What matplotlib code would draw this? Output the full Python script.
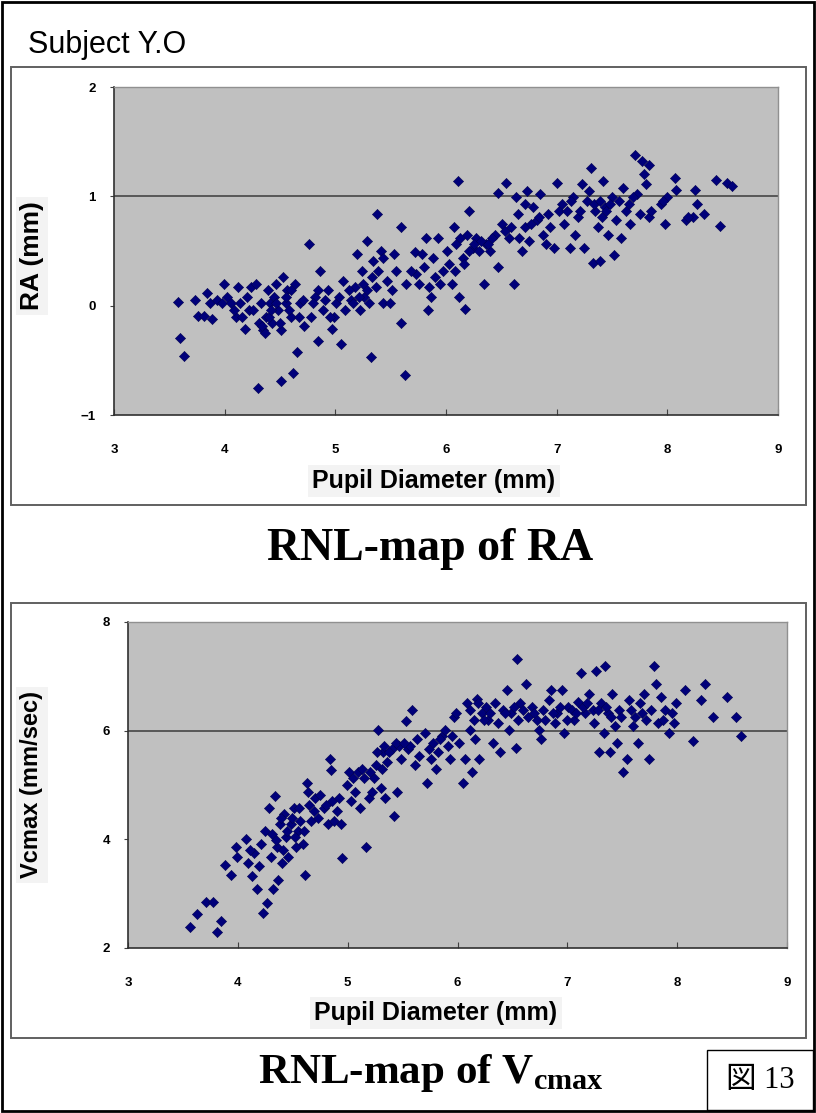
import matplotlib
matplotlib.use("Agg")
import matplotlib.pyplot as plt
from matplotlib.patches import Rectangle

plt.rcParams['mathtext.fontset'] = 'custom'
plt.rcParams['mathtext.rm'] = 'Liberation Serif:bold'
plt.rcParams['mathtext.bf'] = 'Liberation Serif:bold'

# ---------------- data ----------------
ra_x = [3.58, 3.60, 3.63, 3.73, 3.76, 3.81, 3.84, 3.89, 3.87, 3.93, 3.99, 3.98, 4.02, 4.10, 4.12,
        4.14, 4.18, 4.20, 4.22, 4.24, 4.28, 4.30, 4.31, 4.33, 4.35, 4.37, 4.39, 4.41, 4.43, 4.45,
        4.46, 4.48, 4.51, 4.51, 4.53, 4.55, 4.56, 4.60, 4.62, 4.64, 4.65, 4.68, 4.72, 4.76, 4.78,
        4.82, 4.84, 4.86, 4.89, 4.93, 4.97, 4.99, 5.01, 5.05, 5.07, 5.09, 5.14, 5.18, 5.20, 5.22,
        5.24, 5.26, 5.29, 5.30, 5.32, 5.34, 5.37, 5.38, 5.39, 5.41, 5.43, 5.47, 5.51, 5.53, 5.55,
        5.59, 5.59, 5.63, 5.64, 5.72, 5.73, 5.80, 5.82, 5.84, 5.85, 5.88, 5.90, 5.93, 5.97, 6.01,
        6.05, 6.07, 6.09, 6.11, 6.12, 6.15, 6.17, 6.19, 6.21, 6.24, 6.27, 6.30, 6.34, 6.36, 6.40,
        6.44, 6.47, 6.47, 6.51, 6.54, 6.57, 6.61, 6.63, 6.65, 6.69, 6.71, 6.73, 6.75, 6.79, 6.82,
        6.85, 6.88, 6.90, 6.92, 6.98, 7.00, 7.02, 7.07, 7.12, 7.15, 7.17, 7.19, 7.23, 7.25, 7.29,
        7.31, 7.33, 7.35, 7.37, 7.39, 7.42, 7.44, 7.46, 7.50, 7.52, 7.54, 7.58, 7.60, 7.63, 7.66,
        7.71, 7.73, 7.75, 7.77, 7.79, 7.83, 7.83, 7.94, 7.98, 8.00, 8.07, 8.08, 8.17, 8.23, 8.25,
        8.27, 8.33, 8.44, 8.48, 8.54, 8.58,
        4.06, 4.08, 4.16, 4.26, 4.34, 4.36, 4.40, 4.42, 4.46, 4.50, 4.55, 4.58, 4.60, 4.67, 4.71,
        4.80, 4.84, 4.91, 4.95, 5.03, 5.12, 5.16, 5.21, 5.25, 5.29, 5.33, 5.43, 5.49, 5.68, 5.76,
        5.78, 5.86, 5.95, 6.03, 6.08, 6.13, 6.16, 6.21, 6.25, 6.32, 6.38, 6.42, 6.53, 6.59, 6.66,
        6.71, 6.77, 6.84, 6.94, 7.05, 7.09, 7.13, 7.21, 7.27, 7.34, 7.39, 7.41, 7.45, 7.48, 7.56,
        7.65, 7.69, 7.81, 7.85, 7.96, 8.19]
ra_y = [0.03, -0.30, -0.46, 0.05, -0.09, -0.09, 0.12, -0.12, 0.02, 0.05, 0.20, 0.02, 0.08, -0.10, 0.17,
        0.02, -0.21, 0.08, -0.04, 0.17, 0.20, -0.75, -0.16, 0.02, -0.22, -0.10, 0.14, 0.02, -0.16, 0.08,
        0.20, -0.04, -0.69, -0.22, 0.26, 0.02, 0.14, -0.10, -0.62, 0.20, -0.42, 0.02, -0.19, 0.56, -0.10,
        0.08, -0.32, 0.32, -0.04, 0.14, -0.21, -0.10, 0.02, -0.35, 0.23, -0.04, 0.05, 0.17, 0.47, -0.04,
        0.32, 0.08, 0.59, 0.02, -0.47, 0.41, 0.17, 0.84, 0.32, 0.50, 0.02, 0.23, 0.14, 0.47, 0.32,
        0.72, -0.16, -0.63, 0.20, 0.49, 0.29, 0.35, 0.62, -0.04, 0.17, 0.44, 0.26, 0.62, 0.32, 0.50,
        0.20, 0.72, 0.56, 1.14, 0.08, 0.44, -0.03, 0.65, 0.87, 0.53, 0.62, 0.50, 0.20, 0.56, 0.50,
        0.65, 0.35, 1.03, 0.75, 1.12, 0.62, 0.20, 0.99, 0.84, 0.50, 0.72, 1.05, 0.59, 0.90, 0.78,
        1.02, 0.65, 0.56, 0.84, 0.53, 1.12, 0.87, 0.75, 0.53, 0.99, 0.65, 0.81, 1.11, 0.53, 1.05,
        1.26, 0.39, 0.87, 0.72, 0.41, 1.14, 0.90, 0.65, 0.99, 0.46, 0.78, 0.62, 1.08, 0.87, 0.75,
        1.38, 1.02, 0.84, 1.32, 1.20, 1.29, 0.81, 0.93, 0.75, 0.99, 1.17, 1.06, 0.78, 0.81, 1.06,
        0.93, 0.84, 1.15, 0.73, 1.12, 1.09,
        0.02, -0.04, -0.10, -0.04, -0.19, -0.25, -0.10, -0.04, 0.02, -0.16, 0.08, -0.04, 0.14, -0.10, 0.05,
        0.02, 0.14, 0.05, -0.10, 0.08, 0.14, 0.02, 0.08, 0.20, 0.14, 0.26, 0.44, 0.02, 0.32, 0.20,
        0.47, 0.08, 0.20, 0.38, 0.32, 0.62, 0.38, 0.50, 0.56, 0.59, 0.56, 0.62, 0.68, 0.72, 0.62,
        0.93, 0.75, 0.81, 0.72, 0.93, 0.87, 0.96, 0.87, 0.96, 0.93, 0.96, 0.81, 0.87, 0.93, 0.96,
        0.93, 0.99, 1.11, 0.87, 0.96, 0.81]

vc_x = [3.56, 3.63, 3.71, 3.77, 3.81, 3.85, 3.88, 3.94, 3.98, 3.99, 4.07, 4.09, 4.13, 4.15, 4.17,
        4.19, 4.23, 4.25, 4.27, 4.28, 4.30, 4.32, 4.34, 4.36, 4.37, 4.38, 4.40, 4.42, 4.44, 4.46,
        4.48, 4.51, 4.53, 4.55, 4.57, 4.59, 4.61, 4.63, 4.65, 4.67, 4.69, 4.73, 4.78, 4.82, 4.84,
        4.85, 4.86, 4.88, 4.90, 4.94, 4.95, 4.99, 5.03, 5.07, 5.11, 5.15, 5.17, 5.19, 5.22, 5.24,
        5.26, 5.28, 5.30, 5.32, 5.34, 5.36, 5.40, 5.42, 5.45, 5.47, 5.49, 5.53, 5.55, 5.57, 5.59,
        5.61, 5.65, 5.72, 5.74, 5.78, 5.80, 5.82, 5.86, 5.91, 5.93, 5.97, 5.99, 6.05, 6.07, 6.09,
        6.11, 6.13, 6.16, 6.18, 6.20, 6.22, 6.26, 6.28, 6.32, 6.34, 6.39, 6.41, 6.45, 6.47, 6.49,
        6.53, 6.54, 6.57, 6.62, 6.64, 6.68, 6.72, 6.74, 6.76, 6.78, 6.83, 6.85, 6.89, 6.91, 6.95,
        6.97, 7.01, 7.06, 7.10, 7.12, 7.16, 7.20, 7.24, 7.26, 7.29, 7.31, 7.33, 7.34, 7.37, 7.39,
        7.41, 7.43, 7.45, 7.47, 7.51, 7.54, 7.56, 7.60, 7.62, 7.64, 7.66, 7.70, 7.74, 7.76, 7.79,
        7.81, 7.83, 7.85, 7.89, 7.93, 7.97, 7.99, 8.07, 8.14, 8.22, 8.25, 8.33, 8.45, 8.54, 8.58,
        4.11, 4.21, 4.31, 4.35, 4.39, 4.41, 4.45, 4.49, 4.52, 4.56, 4.60, 4.64, 4.70, 4.75, 4.80,
        4.92, 5.01, 5.05, 5.09, 5.13, 5.20, 5.27, 5.31, 5.33, 5.38, 5.44, 5.51, 5.63, 5.70, 5.76,
        5.84, 5.89, 5.95, 6.01, 6.11, 6.15, 6.19, 6.24, 6.30, 6.37, 6.43, 6.51, 6.55, 6.60, 6.70,
        6.80, 6.87, 6.93, 7.00, 7.04, 7.08, 7.14, 7.18, 7.23, 7.28, 7.35, 7.40, 7.49, 7.58, 7.68,
        7.72, 7.87, 7.95]
vc_y = [2.38, 2.62, 2.85, 2.85, 2.29, 2.50, 3.53, 3.35, 3.86, 3.68, 4.01, 3.56, 3.32, 3.74, 3.08,
        3.50, 2.65, 4.16, 2.83, 4.58, 3.68, 3.08, 4.79, 3.86, 3.26, 4.28, 3.56, 4.46, 4.04, 3.68,
        4.28, 4.58, 3.86, 4.16, 4.34, 3.92, 3.35, 5.03, 4.64, 4.34, 4.52, 4.40, 4.58, 4.28, 5.48,
        5.27, 4.70, 4.34, 4.52, 4.28, 3.65, 5.00, 4.70, 4.88, 4.58, 5.12, 3.86, 4.76, 4.88, 5.12,
        5.36, 6.02, 4.94, 5.60, 4.76, 5.42, 5.66, 4.43, 4.88, 5.72, 5.48, 6.17, 5.66, 5.72, 6.38,
        5.36, 5.54, 5.03, 5.66, 5.78, 5.30, 5.60, 5.90, 5.72, 5.48, 6.26, 6.32, 5.03, 5.48, 6.50,
        6.02, 5.24, 5.84, 6.59, 5.48, 6.32, 6.44, 6.20, 5.78, 6.50, 5.60, 6.38, 6.74, 6.02, 6.32,
        5.69, 7.31, 6.50, 6.86, 6.26, 6.44, 6.20, 6.02, 5.84, 6.38, 6.56, 6.74, 6.14, 6.32, 6.74,
        5.96, 6.44, 6.20, 6.53, 7.07, 6.32, 6.68, 6.14, 7.10, 5.60, 6.50, 5.96, 7.19, 6.32, 5.60,
        6.68, 6.08, 5.78, 6.38, 5.24, 5.48, 6.56, 6.08, 6.26, 5.78, 6.50, 6.68, 5.48, 6.38, 7.19,
        6.86, 6.14, 6.62, 6.38, 5.96, 6.14, 6.50, 6.74, 5.81, 6.56, 6.86, 6.26, 6.62, 6.26, 5.91,
        3.80, 3.92, 4.10, 3.98, 4.40, 3.80, 4.16, 4.40, 4.04, 4.58, 4.16, 4.88, 4.76, 4.82, 4.64,
        4.76, 5.24, 5.12, 5.24, 5.30, 5.24, 5.60, 5.30, 5.72, 5.60, 5.78, 5.78, 5.84, 5.96, 5.48,
        5.84, 6.02, 5.90, 5.78, 6.38, 6.20, 6.50, 6.20, 6.32, 6.14, 6.32, 6.44, 6.20, 6.38, 6.32,
        6.20, 6.32, 6.44, 6.20, 6.38, 6.32, 6.44, 6.50, 6.38, 6.38, 6.44, 6.26, 6.26, 6.38, 6.32,
        6.20, 6.20, 6.32]

ra_ticks_y = [-1, 0, 1, 2]
vc_ticks_y = [2, 4, 6, 8]
ticks_x = [3, 4, 5, 6, 7, 8, 9]

# ---------------- layout ----------------
W, H = 816, 1113
fig = plt.figure(figsize=(W / 100, H / 100), dpi=100)
fig.patch.set_facecolor('white')


def fx(px):
    return px / W


def fy(py):
    return 1 - py / H


def px_axes(x0, y0, x1, y1):
    return fig.add_axes([fx(x0), fy(y1), (x1 - x0) / W, (y1 - y0) / H])


def frame(x0, y0, x1, y1, color, lw):
    fig.add_artist(Rectangle((fx(x0), fy(y1)), (x1 - x0) / W, (y1 - y0) / H,
                             transform=fig.transFigure, fill=False,
                             edgecolor=color, linewidth=lw))


# outer border
frame(2, 2, 814, 1111, 'black', 2.0)
# chart frames
frame(11, 67, 806, 505, '#606060', 1.4)
frame(11, 603, 806, 1038, '#606060', 1.4)
# figure number box
frame(707, 1050, 813, 1110, 'black', 1.0)

tick_font = dict(family=['Liberation Sans Narrow', 'Liberation Sans', 'DejaVu Sans'],
                 weight='bold', size=9.5)


def style_axes(ax, yticks, ylim, hline):
    ax.set_facecolor('#c0c0c0')
    ax.set_xlim(3, 9)
    ax.set_ylim(*ylim)
    ax.set_xticks(ticks_x)
    ax.set_yticks(yticks)
    ax.set_xticklabels([str(t) for t in ticks_x], fontdict=tick_font)
    ax.set_yticklabels([str(t) if t >= 0 else '\u22121' for t in yticks], fontdict=tick_font)
    ax.tick_params(axis='x', direction='in', length=4, pad=21, color='#404040')
    ax.tick_params(axis='y', direction='out', length=3, pad=10, color='#404040')
    for s in ['top', 'right']:
        ax.spines[s].set_color('#909090')
        ax.spines[s].set_linewidth(1.0)
    for s in ['left', 'bottom']:
        ax.spines[s].set_color('#303030')
        ax.spines[s].set_linewidth(1.2)
    ax.axhline(hline, color='#505050', linewidth=1.3, zorder=1)


ax1 = px_axes(114, 87, 778, 415)
style_axes(ax1, ra_ticks_y, (-1, 2), 1)
ax1.scatter(ra_x, ra_y, marker='D', s=27, color='#00007a', edgecolors='#000050',
            linewidths=0.4, zorder=3)

ax2 = px_axes(128, 622, 787, 948)
style_axes(ax2, vc_ticks_y, (2, 8), 6)
ax2.scatter(vc_x, vc_y, marker='D', s=27, color='#00007a', edgecolors='#000050',
            linewidths=0.4, zorder=3)

label_box = dict(facecolor='#f3f3f3', edgecolor='none', pad=3)

fig.text(fx(28), fy(45), 'Subject Y.O', fontsize=22, family='Liberation Sans',
         ha='left', va='center')

fig.text(fx(32), fy(256), 'RA (mm)', fontsize=19, family='Liberation Sans',
         weight='bold', rotation=90, ha='center', va='center', bbox=label_box)
fig.text(fx(434), fy(481), 'Pupil Diameter (mm)', fontsize=18, family='Liberation Sans',
         weight='bold', ha='center', va='center', bbox=label_box)

fig.text(fx(32), fy(785), 'Vcmax (mm/sec)', fontsize=17, family='Liberation Sans',
         weight='bold', rotation=90, ha='center', va='center', bbox=label_box)
fig.text(fx(436), fy(1013), 'Pupil Diameter (mm)', fontsize=18, family='Liberation Sans',
         weight='bold', ha='center', va='center', bbox=label_box)

fig.text(fx(430), fy(549), 'RNL-map of RA', fontsize=33, family='Liberation Serif',
         weight='bold', ha='center', va='center')
fig.text(fx(431), fy(1073), r'RNL-map of V$_{\mathbf{cmax}}$', fontsize=31,
         family='Liberation Serif', weight='bold', ha='center', va='center')

fig.text(fx(760), fy(1081), '図 13', fontsize=22,
         family=['Liberation Serif', 'Noto Sans CJK JP'], ha='center', va='center')

fig.savefig('out.png', dpi=100, facecolor='white')
